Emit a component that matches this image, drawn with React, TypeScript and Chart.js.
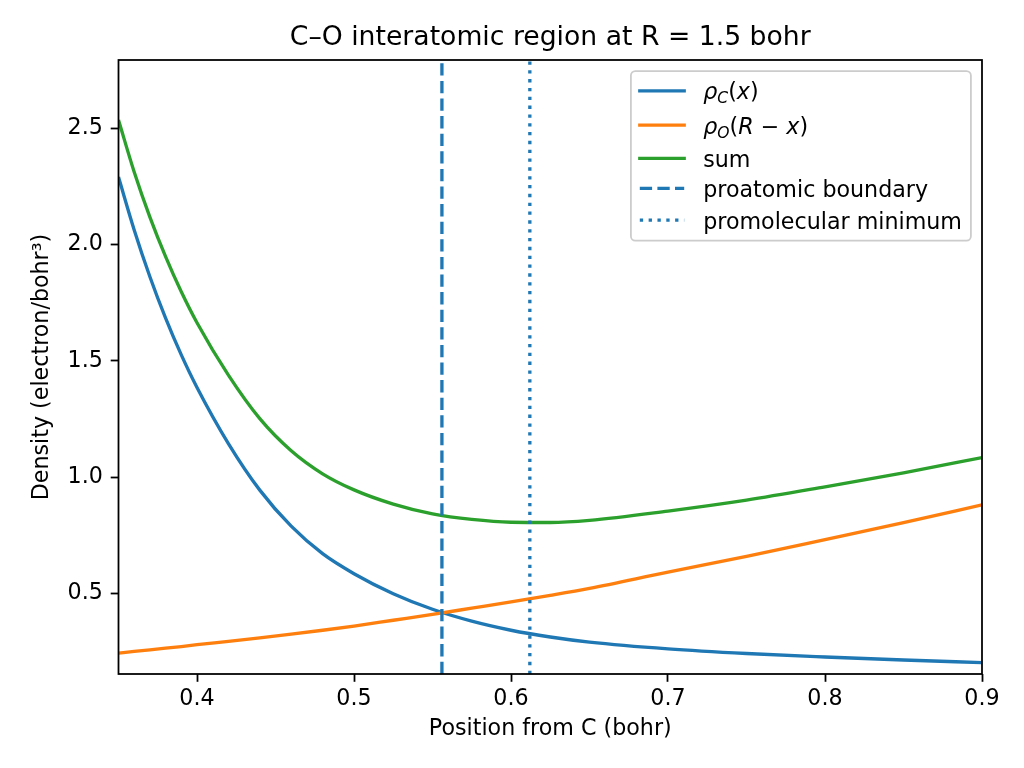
import { useEffect, useRef } from "react";
import { Chart, registerables } from "chart.js";

Chart.register(...registerables);

// Sample positions along the C–O axis (bohr, measured from C)
const positions = [0.35, 0.36, 0.37, 0.38, 0.39, 0.40, 0.42, 0.44, 0.46, 0.48, 0.50, 0.525, 0.55, 0.575, 0.60, 0.625, 0.65, 0.70, 0.75, 0.80, 0.85, 0.90];

// Carbon proatomic density rho_C(x)
const rhoC = [2.29, 2.063, 1.862, 1.684, 1.526, 1.386, 1.145, 0.945, 0.79, 0.672, 0.586, 0.50, 0.433, 0.382, 0.343, 0.314, 0.292, 0.263, 0.243, 0.228, 0.215, 0.204];

// Oxygen proatomic density rho_O(R - x)
const rhoO = [0.245, 0.252, 0.259, 0.266, 0.273, 0.281, 0.295, 0.310, 0.326, 0.343, 0.361, 0.386, 0.411, 0.438, 0.465, 0.493, 0.523, 0.593, 0.660, 0.732, 0.805, 0.882];

// Promolecular density (sum)
const rhoSum = [2.535, 2.312, 2.118, 1.948, 1.797, 1.664, 1.439, 1.252, 1.114, 1.015, 0.946, 0.885, 0.843, 0.819, 0.807, 0.806, 0.815, 0.855, 0.902, 0.959, 1.019, 1.085];

// Marked positions
const boundaryX = 0.556;
const minimumX = 0.612;

// Axis ranges and tick labels
const xRange = [0.35, 0.9];
const yRange = [0.155, 2.793];
const xTicks = [0.4, 0.5, 0.6, 0.7, 0.8, 0.9];
const yTicks = [0.5, 1.0, 1.5, 2.0, 2.5];

const C0 = "#1f77b4";
const C1 = "#ff7f0e";
const C2 = "#2ca02c";
const FONT = "'DejaVu Sans'";
const FS = 22.2;

type Seg = { t: string; italic?: boolean; sub?: boolean };

const legendText: Record<string, Seg[]> = {
  rhoC: [
    { t: "ρ", italic: true },
    { t: "C", italic: true, sub: true },
    { t: "(" },
    { t: "x", italic: true },
    { t: ")" },
  ],
  rhoO: [
    { t: "ρ", italic: true },
    { t: "O", italic: true, sub: true },
    { t: "(" },
    { t: "R", italic: true },
    { t: " − " },
    { t: "x", italic: true },
    { t: ")" },
  ],
  sum: [{ t: "sum" }],
  boundary: [{ t: "proatomic boundary" }],
  minimum: [{ t: "promolecular minimum" }],
};

const frameAndLegend = {
  id: "frameAndLegend",
  afterDatasetsDraw(chart: any) {
    const { ctx, chartArea: a } = chart;
    ctx.save();
    ctx.strokeStyle = "#000";
    ctx.lineWidth = 1.78;
    ctx.strokeRect(a.left, a.top, a.right - a.left, a.bottom - a.top);
    ctx.restore();
  },
  afterDraw(chart: any) {
    const { ctx, chartArea: a } = chart;
    const bw = 340;
    const bh = 169.5;
    const bx = a.right - 11.1 - bw;
    const by = a.top + 11.1;
    ctx.save();
    ctx.beginPath();
    ctx.roundRect(bx, by, bw, bh, 4.4);
    ctx.fillStyle = "rgba(255,255,255,0.8)";
    ctx.fill();
    ctx.strokeStyle = "#cccccc";
    ctx.lineWidth = 1.78;
    ctx.stroke();

    const rows = [19.7, 54, 87.3, 117.3, 149];
    chart.data.datasets.forEach((ds: any, i: number) => {
      const y = by + rows[i];
      ctx.beginPath();
      ctx.strokeStyle = ds.borderColor;
      ctx.lineWidth = ds.borderWidth;
      const dash = ds.borderDash || [];
      ctx.setLineDash(dash);
      ctx.lineCap = dash.length ? "butt" : "square";
      ctx.moveTo(bx + 8.9, y);
      ctx.lineTo(bx + 53.3, y);
      ctx.stroke();
      ctx.setLineDash([]);

      let x = bx + 72.3;
      const base = y + 8.5;
      ctx.fillStyle = "#000";
      ctx.textBaseline = "alphabetic";
      ctx.textAlign = "left";
      for (const s of legendText[ds.label]) {
        const size = s.sub ? FS * 0.7 : FS;
        ctx.font = `${s.italic ? "italic " : ""}${size}px ${FONT}`;
        ctx.fillText(s.t, x, s.sub ? base + 4 : base);
        x += ctx.measureText(s.t).width;
      }
    });
    ctx.restore();
  },
};

export default function App() {
  const ref = useRef<HTMLCanvasElement | null>(null);

  useEffect(() => {
    if (!ref.current) return;
    const curve = (label: string, values: number[], color: string, order: number) => ({
      label,
      data: positions.map((x, i) => ({ x, y: values[i] })),
      borderColor: color,
      borderWidth: 3.33,
      pointRadius: 0,
      cubicInterpolationMode: "monotone" as const,
      fill: false,
      clip: 0,
      order,
    });
    const vline = (label: string, x: number, dash: number[], order: number) => ({
      label,
      data: [
        { x, y: yRange[0] },
        { x, y: yRange[1] },
      ],
      borderColor: C0,
      borderWidth: 3.33,
      borderDash: dash,
      pointRadius: 0,
      fill: false,
      clip: 0,
      order,
    });

    const chart = new Chart(ref.current, {
      type: "line",
      data: {
        datasets: [
          curve("rhoC", rhoC, C0, 5),
          curve("rhoO", rhoO, C1, 4),
          curve("sum", rhoSum, C2, 3),
          vline("boundary", boundaryX, [12.3, 5.3], 2),
          vline("minimum", minimumX, [3.33, 5.5], 1),
        ],
      },
      options: {
        animation: false,
        responsive: false,
        maintainAspectRatio: false,
        devicePixelRatio: 1,
        layout: { padding: { left: 0, right: 42, top: 0, bottom: 0 } },
        plugins: {
          legend: { display: false },
          tooltip: { enabled: false },
          title: {
            display: true,
            fullSize: false,
            text: "C–O interatomic region at R = 1.5 bohr",
            color: "#000",
            font: { family: FONT, size: 26.67, weight: "normal" },
            padding: { top: 22, bottom: 6 },
          },
        },
        scales: {
          x: {
            type: "linear",
            min: xRange[0],
            max: xRange[1],
            afterBuildTicks: (s: any) => {
              s.ticks = xTicks.map((v) => ({ value: v }));
            },
            afterFit: (s: any) => {
              s.height = 94;
            },
            ticks: {
              color: "#000",
              font: { family: FONT, size: FS },
              padding: 4,
              maxRotation: 0,
              autoSkip: false,
              callback: (v: any) => Number(v).toFixed(1),
            },
            grid: {
              display: true,
              drawOnChartArea: false,
              drawTicks: true,
              tickLength: 7.8,
              tickWidth: 1.78,
              tickColor: "#000",
            },
            border: { display: false },
            title: {
              display: true,
              text: "Position from C (bohr)",
              color: "#000",
              font: { family: FONT, size: FS },
              padding: { top: 0, bottom: 25 },
            },
          },
          y: {
            type: "linear",
            min: yRange[0],
            max: yRange[1],
            afterBuildTicks: (s: any) => {
              s.ticks = yTicks.map((v) => ({ value: v }));
            },
            afterFit: (s: any) => {
              s.width = 118.5;
            },
            ticks: {
              color: "#000",
              font: { family: FONT, size: FS },
              padding: 7.8,
              autoSkip: false,
              callback: (v: any) => Number(v).toFixed(1),
            },
            grid: {
              display: true,
              drawOnChartArea: false,
              drawTicks: true,
              tickLength: 7.8,
              tickWidth: 1.78,
              tickColor: "#000",
            },
            border: { display: false },
            title: {
              display: true,
              text: "Density (electron/bohr³)",
              color: "#000",
              font: { family: FONT, size: FS },
              padding: { top: 29, bottom: 0 },
            },
          },
        },
      },
      plugins: [frameAndLegend],
    } as any);

    return () => chart.destroy();
  }, []);

  return (
    <div style={{ position: "absolute", left: 0, top: 0, width: 1024, height: 768, background: "#fff" }}>
      <canvas ref={ref} width={1024} height={768} style={{ display: "block", width: 1024, height: 768 }} />
    </div>
  );
}
